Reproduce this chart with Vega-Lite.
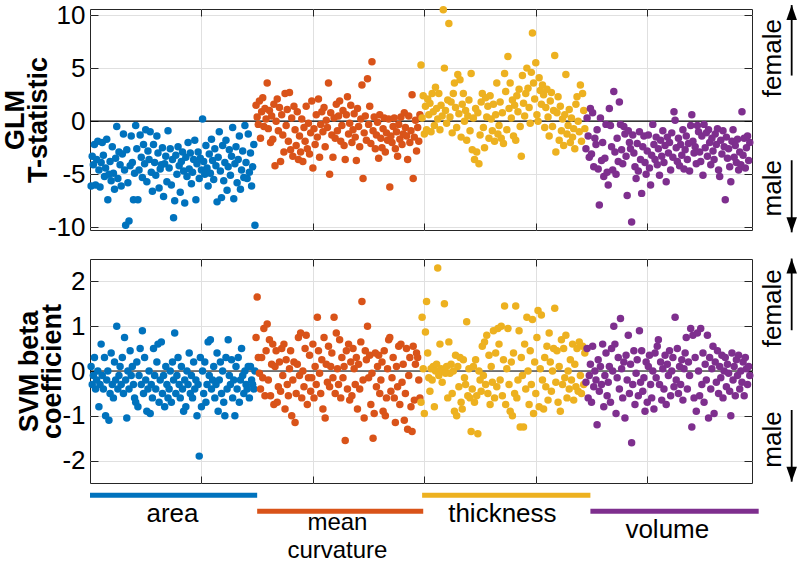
{
"$schema": "https://vega.github.io/schema/vega-lite/v6.json",
"autosize": "none",
"padding": {"left": 90, "top": 9, "right": 710, "bottom": 554},
"background": "white",
"config": {
  "font": "Liberation Sans",
  "view": {"stroke": "#262626", "strokeWidth": 1},
  "axis": {"domain": false, "gridColor": "#e0e0e0", "gridWidth": 1, "tickColor": "#262626", "tickWidth": 1, "labelColor": "#000000", "titleColor": "#000000", "labelFont": "Liberation Sans", "titleFont": "Liberation Sans"}
},
"datasets": {"pts": [
{"i":1,"g":"area","t":-6.1,"s":0.1},{"i":2,"g":"area","t":-3.3,"s":-0.3},{"i":3,"g":"area","t":-4.1,"s":-0.1},{"i":4,"g":"area","t":-2.2,"s":0.3},{"i":5,"g":"area","t":-6.0,"s":-0.4},
{"i":6,"g":"area","t":-3.6,"s":-0.2},{"i":7,"g":"area","t":-1.9,"s":0.0},{"i":8,"g":"area","t":-4.6,"s":-0.8},{"i":9,"g":"area","t":-6.2,"s":-0.3},{"i":10,"g":"area","t":-3.9,"s":0.6},
{"i":11,"g":"area","t":-2.0,"s":-0.1},{"i":12,"g":"area","t":-3.2,"s":-0.4},{"i":13,"g":"area","t":-5.2,"s":0.3},{"i":14,"g":"area","t":-4.4,"s":-1.0},{"i":15,"g":"area","t":-1.7,"s":-0.2},
{"i":16,"g":"area","t":-7.4,"s":0.0},{"i":17,"g":"area","t":-5.0,"s":-1.1},{"i":18,"g":"area","t":-3.8,"s":-0.5},{"i":19,"g":"area","t":-5.6,"s":0.4},{"i":20,"g":"area","t":-2.4,"s":-0.3},
{"i":21,"g":"area","t":-4.9,"s":-0.6},{"i":22,"g":"area","t":-6.4,"s":0.2},{"i":23,"g":"area","t":-3.5,"s":-0.2},{"i":24,"g":"area","t":-0.5,"s":1.0},{"i":25,"g":"area","t":-5.4,"s":-0.4},
{"i":26,"g":"area","t":-2.9,"s":-0.1},{"i":27,"g":"area","t":-4.1,"s":0.1},{"i":28,"g":"area","t":-6.1,"s":-0.3},{"i":29,"g":"area","t":-3.1,"s":0.3},{"i":30,"g":"area","t":-1.2,"s":-0.5},
{"i":31,"g":"area","t":-4.6,"s":0.75},{"i":32,"g":"area","t":-9.8,"s":-0.2},{"i":33,"g":"area","t":-2.7,"s":-1.05},{"i":34,"g":"area","t":-5.8,"s":0.0},{"i":35,"g":"area","t":-9.4,"s":-0.4},
{"i":36,"g":"area","t":-4.2,"s":0.45},{"i":37,"g":"area","t":-1.4,"s":-0.1},{"i":38,"g":"area","t":-3.9,"s":0.1},{"i":39,"g":"area","t":-7.4,"s":-0.3},{"i":40,"g":"area","t":-4.9,"s":-0.6},
{"i":41,"g":"area","t":-0.4,"s":-0.7},{"i":42,"g":"area","t":-2.6,"s":0.2},{"i":43,"g":"area","t":-7.4,"s":-0.8},{"i":44,"g":"area","t":-4.6,"s":-0.1},{"i":45,"g":"area","t":-1.3,"s":0.5},
{"i":46,"g":"area","t":-3.4,"s":-0.3},{"i":47,"g":"area","t":-5.3,"s":0.9},{"i":48,"g":"area","t":-2.2,"s":-0.5},{"i":49,"g":"area","t":-4.0,"s":0.3},{"i":50,"g":"area","t":-0.8,"s":-0.2},
{"i":51,"g":"area","t":-5.7,"s":-0.9},{"i":52,"g":"area","t":-2.8,"s":-0.4},{"i":53,"g":"area","t":-3.6,"s":0.0},{"i":54,"g":"area","t":-1.0,"s":-0.95},{"i":55,"g":"area","t":-4.8,"s":-0.3},
{"i":56,"g":"area","t":-6.6,"s":-0.6},{"i":57,"g":"area","t":-2.2,"s":0.5},{"i":58,"g":"area","t":-3.9,"s":-0.1},{"i":59,"g":"area","t":-5.1,"s":-0.4},{"i":60,"g":"area","t":-1.4,"s":0.2},
{"i":61,"g":"area","t":-3.0,"s":0.6},{"i":62,"g":"area","t":-6.3,"s":-0.7},{"i":63,"g":"area","t":-4.5,"s":-0.2},{"i":64,"g":"area","t":-4.1,"s":0.65},{"i":65,"g":"area","t":-2.5,"s":-0.5},
{"i":66,"g":"area","t":-7.1,"s":-0.1},{"i":67,"g":"area","t":-4.0,"s":-0.8},{"i":68,"g":"area","t":-3.3,"s":0.1},{"i":69,"g":"area","t":-5.7,"s":-0.3},{"i":70,"g":"area","t":-0.9,"s":-0.6},
{"i":71,"g":"area","t":-4.4,"s":-0.4},{"i":72,"g":"area","t":-2.6,"s":0.0},{"i":73,"g":"area","t":-6.0,"s":-0.7},{"i":74,"g":"area","t":-3.6,"s":0.2},{"i":75,"g":"area","t":-9.1,"s":-0.2},
{"i":76,"g":"area","t":-7.5,"s":0.85},{"i":77,"g":"area","t":-3.2,"s":-0.5},{"i":78,"g":"area","t":-5.0,"s":-0.1},{"i":79,"g":"area","t":-2.4,"s":0.3},{"i":80,"g":"area","t":-4.2,"s":-0.3},
{"i":81,"g":"area","t":-6.7,"s":-0.6},{"i":82,"g":"area","t":-3.8,"s":0.1},{"i":83,"g":"area","t":-2.9,"s":-0.4},{"i":84,"g":"area","t":-4.7,"s":-0.9},{"i":85,"g":"area","t":-7.7,"s":-0.2},
{"i":86,"g":"area","t":-3.4,"s":-0.8},{"i":87,"g":"area","t":-5.2,"s":0.0},{"i":88,"g":"area","t":-2.0,"s":-0.3},{"i":89,"g":"area","t":-4.5,"s":0.4},{"i":90,"g":"area","t":-3.0,"s":-0.5},
{"i":91,"g":"area","t":-5.9,"s":-0.1},{"i":92,"g":"area","t":-4.8,"s":-0.6},{"i":93,"g":"area","t":-3.6,"s":0.2},{"i":94,"g":"area","t":-1.8,"s":-0.4},{"i":95,"g":"area","t":-7.4,"s":-0.2},
{"i":96,"g":"area","t":-4.0,"s":-1.0},{"i":97,"g":"area","t":-2.9,"s":-0.3},{"i":98,"g":"area","t":-5.4,"s":-1.9},{"i":99,"g":"area","t":-3.5,"s":0.3},{"i":100,"g":"area","t":-4.6,"s":-0.8},
{"i":101,"g":"area","t":0.2,"s":0.0},{"i":102,"g":"area","t":-3.8,"s":-0.5},{"i":103,"g":"area","t":-5.0,"s":0.2},{"i":104,"g":"area","t":-2.3,"s":-0.7},{"i":105,"g":"area","t":-4.4,"s":-0.3},
{"i":106,"g":"area","t":-6.1,"s":0.65},{"i":107,"g":"area","t":-3.1,"s":-0.1},{"i":108,"g":"area","t":-4.9,"s":0.7},{"i":109,"g":"area","t":-1.7,"s":-0.4},{"i":110,"g":"area","t":-3.7,"s":-0.2},
{"i":111,"g":"area","t":-5.5,"s":0.1},{"i":112,"g":"area","t":-2.6,"s":-0.6},{"i":113,"g":"area","t":-4.2,"s":-0.3},{"i":114,"g":"area","t":-7.6,"s":0.4},{"i":115,"g":"area","t":-3.4,"s":-0.9},
{"i":116,"g":"area","t":-1.0,"s":-0.2},{"i":117,"g":"area","t":-4.7,"s":0.2},{"i":118,"g":"area","t":-7.2,"s":-0.5},{"i":119,"g":"area","t":-2.3,"s":0.0},{"i":120,"g":"area","t":-5.6,"s":-0.7},
{"i":121,"g":"area","t":-3.9,"s":-1.0},{"i":122,"g":"area","t":-1.8,"s":0.3},{"i":123,"g":"area","t":-6.5,"s":-0.4},{"i":124,"g":"area","t":-4.3,"s":0.7},{"i":125,"g":"area","t":-2.7,"s":-0.1},
{"i":126,"g":"area","t":-5.1,"s":-0.3},{"i":127,"g":"area","t":-3.3,"s":0.25},{"i":128,"g":"area","t":-0.6,"s":-0.6},{"i":129,"g":"area","t":-7.3,"s":-0.2},{"i":130,"g":"area","t":-4.0,"s":-1.0},
{"i":131,"g":"area","t":-2.4,"s":0.1},{"i":132,"g":"area","t":-5.8,"s":-0.4},{"i":133,"g":"area","t":-3.6,"s":0.3},{"i":134,"g":"area","t":-1.4,"s":-0.7},{"i":135,"g":"area","t":-6.4,"s":-0.2},
{"i":136,"g":"area","t":-4.6,"s":0.5},{"i":137,"g":"area","t":-2.8,"s":-0.1},{"i":138,"g":"area","t":-5.3,"s":-0.5},{"i":139,"g":"area","t":-0.4,"s":0.0},{"i":140,"g":"area","t":-3.9,"s":-0.3},
{"i":141,"g":"area","t":-5.4,"s":-0.4},{"i":142,"g":"area","t":-1.2,"s":0.1},{"i":143,"g":"area","t":-4.8,"s":-0.6},{"i":144,"g":"area","t":-3.0,"s":0.1},{"i":145,"g":"area","t":-6.1,"s":-0.2},
{"i":146,"g":"area","t":-4.3,"s":-0.3},{"i":147,"g":"area","t":-2.2,"s":-0.4},{"i":148,"g":"area","t":-9.8,"s":0.0},
{"i":149,"g":"curv","t":1.5,"s":0.75},{"i":150,"g":"curv","t":0.4,"s":1.65},{"i":151,"g":"curv","t":-0.3,"s":0.3},{"i":152,"g":"curv","t":1.9,"s":-0.05},{"i":153,"g":"curv","t":-1.6,"s":-0.4},
{"i":154,"g":"curv","t":0.9,"s":0.3},{"i":155,"g":"curv","t":2.2,"s":-0.15},{"i":156,"g":"curv","t":-0.5,"s":0.95},{"i":157,"g":"curv","t":1.2,"s":-0.55},{"i":158,"g":"curv","t":0.2,"s":0.45},
{"i":159,"g":"curv","t":3.6,"s":1.05},{"i":160,"g":"curv","t":-0.7,"s":-0.2},{"i":161,"g":"curv","t":1.0,"s":0.7},{"i":162,"g":"curv","t":-2.0,"s":-0.55},{"i":163,"g":"curv","t":0.5,"s":0.15},
{"i":164,"g":"curv","t":-1.7,"s":0.6},{"i":165,"g":"curv","t":1.6,"s":-0.75},{"i":166,"g":"curv","t":-4.2,"s":0.1},{"i":167,"g":"curv","t":0.0,"s":0.45},{"i":168,"g":"curv","t":2.1,"s":-0.7},
{"i":169,"g":"curv","t":-0.9,"s":-0.35},{"i":170,"g":"curv","t":1.3,"s":0.2},{"i":171,"g":"curv","t":-3.8,"s":-0.45},{"i":172,"g":"curv","t":0.6,"s":0.5},{"i":173,"g":"curv","t":-1.3,"s":-0.1},
{"i":174,"g":"curv","t":-2.9,"s":0.6},{"i":175,"g":"curv","t":2.6,"s":-0.85},{"i":176,"g":"curv","t":-0.4,"s":0.25},{"i":177,"g":"curv","t":1.1,"s":-0.3},{"i":178,"g":"curv","t":-1.9,"s":-0.55},
{"i":179,"g":"curv","t":2.7,"s":0.05},{"i":180,"g":"curv","t":-2.7,"s":0.45},{"i":181,"g":"curv","t":0.3,"s":-1.0},{"i":182,"g":"curv","t":-3.3,"s":-0.2},{"i":183,"g":"curv","t":1.4,"s":0.2},
{"i":184,"g":"curv","t":-0.8,"s":-1.15},{"i":185,"g":"curv","t":-2.3,"s":-0.5},{"i":186,"g":"curv","t":0.9,"s":0.15},{"i":187,"g":"curv","t":-3.6,"s":0.75},{"i":188,"g":"curv","t":-1.4,"s":-0.1},
{"i":189,"g":"curv","t":-2.9,"s":0.85},{"i":190,"g":"curv","t":0.2,"s":-0.6},{"i":191,"g":"curv","t":-3.8,"s":0.0},{"i":192,"g":"curv","t":-0.6,"s":-0.35},{"i":193,"g":"curv","t":-1.9,"s":0.5},
{"i":194,"g":"curv","t":1.4,"s":0.8},{"i":195,"g":"curv","t":-2.6,"s":-0.75},{"i":196,"g":"curv","t":-0.2,"s":-0.15},{"i":197,"g":"curv","t":-3.1,"s":0.35},{"i":198,"g":"curv","t":-1.1,"s":-0.45},
{"i":199,"g":"curv","t":1.9,"s":-0.15},{"i":200,"g":"curv","t":-4.4,"s":0.6},{"i":201,"g":"curv","t":-0.7,"s":-0.6},{"i":202,"g":"curv","t":-2.2,"s":0.1},{"i":203,"g":"curv","t":0.6,"s":-0.3},
{"i":204,"g":"curv","t":-1.5,"s":1.2},{"i":205,"g":"curv","t":2.1,"s":0.45},{"i":206,"g":"curv","t":-3.4,"s":-0.05},{"i":207,"g":"curv","t":-0.3,"s":-0.5},{"i":208,"g":"curv","t":0.9,"s":0.25},
{"i":209,"g":"curv","t":-1.0,"s":-0.85},{"i":210,"g":"curv","t":1.3,"s":0.75},{"i":211,"g":"curv","t":-2.4,"s":-1.05},{"i":212,"g":"curv","t":0.1,"s":0.15},{"i":213,"g":"curv","t":-0.6,"s":-0.25},
{"i":214,"g":"curv","t":3.6,"s":0.55},{"i":215,"g":"curv","t":-5.0,"s":-0.35},{"i":216,"g":"curv","t":0.8,"s":0.1},{"i":217,"g":"curv","t":-1.3,"s":0.4},{"i":218,"g":"curv","t":-3.4,"s":-0.15},
{"i":219,"g":"curv","t":0.3,"s":1.2},{"i":220,"g":"curv","t":-1.6,"s":-0.5},{"i":221,"g":"curv","t":1.6,"s":0.85},{"i":222,"g":"curv","t":-0.9,"s":0.05},{"i":223,"g":"curv","t":0.5,"s":-0.3},
{"i":224,"g":"curv","t":1.9,"s":0.7},{"i":225,"g":"curv","t":-1.9,"s":-0.6},{"i":226,"g":"curv","t":-0.4,"s":0.3},{"i":227,"g":"curv","t":1.0,"s":-0.15},{"i":228,"g":"curv","t":-2.3,"s":0.1},
{"i":229,"g":"curv","t":-3.6,"s":-1.55},{"i":230,"g":"curv","t":0.6,"s":0.45},{"i":231,"g":"curv","t":2.3,"s":-0.4},{"i":232,"g":"curv","t":-1.2,"s":0.6},{"i":233,"g":"curv","t":-0.2,"s":-0.65},
{"i":234,"g":"curv","t":1.5,"s":0.2},{"i":235,"g":"curv","t":-2.0,"s":-0.55},{"i":236,"g":"curv","t":-0.8,"s":0.5},{"i":237,"g":"curv","t":0.7,"s":0.05},{"i":238,"g":"curv","t":-1.5,"s":-0.3},
{"i":239,"g":"curv","t":-3.7,"s":0.3},{"i":240,"g":"curv","t":1.2,"s":-0.85},{"i":241,"g":"curv","t":-0.5,"s":0.15},{"i":242,"g":"curv","t":-2.4,"s":-0.4},{"i":243,"g":"curv","t":0.2,"s":0.65},
{"i":244,"g":"curv","t":3.4,"s":1.55},{"i":245,"g":"curv","t":-5.4,"s":-0.2},{"i":246,"g":"curv","t":-1.1,"s":-1.05},{"i":247,"g":"curv","t":0.5,"s":0.45},{"i":248,"g":"curv","t":-1.8,"s":0.25},
{"i":249,"g":"curv","t":4.0,"s":1.0},{"i":250,"g":"curv","t":-0.3,"s":-0.15},{"i":251,"g":"curv","t":1.4,"s":0.35},{"i":252,"g":"curv","t":-2.1,"s":-0.75},{"i":253,"g":"curv","t":5.6,"s":-0.05},
{"i":254,"g":"curv","t":-0.9,"s":-1.5},{"i":255,"g":"curv","t":0.4,"s":-0.95},{"i":256,"g":"curv","t":-2.6,"s":0.4},{"i":257,"g":"curv","t":-1.3,"s":-0.35},{"i":258,"g":"curv","t":-0.1,"s":0.1},
{"i":259,"g":"curv","t":-3.5,"s":0.35},{"i":260,"g":"curv","t":0.6,"s":-0.5},{"i":261,"g":"curv","t":-1.6,"s":-0.2},{"i":262,"g":"curv","t":-2.5,"s":0.2},{"i":263,"g":"curv","t":-0.7,"s":-0.9},
{"i":264,"g":"curv","t":0.3,"s":0.45},{"i":265,"g":"curv","t":-2.9,"s":-1.0},{"i":266,"g":"curv","t":-1.1,"s":-0.6},{"i":267,"g":"curv","t":-1.8,"s":0.05},{"i":268,"g":"curv","t":0.2,"s":0.7},
{"i":269,"g":"curv","t":-6.2,"s":0.75},{"i":270,"g":"curv","t":-1.4,"s":-0.45},{"i":271,"g":"curv","t":-2.0,"s":-0.15},{"i":272,"g":"curv","t":-0.5,"s":0.3},{"i":273,"g":"curv","t":0.3,"s":-0.6},
{"i":274,"g":"curv","t":-2.6,"s":-1.15},{"i":275,"g":"curv","t":-1.0,"s":0.1},{"i":276,"g":"curv","t":-3.3,"s":-0.35},{"i":277,"g":"curv","t":-0.3,"s":0.55},{"i":278,"g":"curv","t":-1.7,"s":-0.75},
{"i":279,"g":"curv","t":0.4,"s":0.6},{"i":280,"g":"curv","t":-2.2,"s":-0.25},{"i":281,"g":"curv","t":-1.2,"s":0.15},{"i":282,"g":"curv","t":0.8,"s":-1.1},{"i":283,"g":"curv","t":-0.6,"s":-0.5},
{"i":284,"g":"curv","t":-1.4,"s":0.5},{"i":285,"g":"curv","t":-3.6,"s":-1.3},{"i":286,"g":"curv","t":0.5,"s":-0.1},{"i":287,"g":"curv","t":-2.0,"s":0.3},{"i":288,"g":"curv","t":-0.9,"s":-0.8},
{"i":289,"g":"curv","t":2.5,"s":-1.35},{"i":290,"g":"curv","t":-5.4,"s":0.55},{"i":291,"g":"curv","t":-1.5,"s":-0.65},{"i":292,"g":"curv","t":0.1,"s":0.15},{"i":293,"g":"curv","t":-2.8,"s":0.4},
{"i":294,"g":"curv","t":-0.6,"s":0.3},{"i":295,"g":"curv","t":-1.9,"s":-0.2},{"i":296,"g":"curv","t":0.6,"s":-0.6},
{"i":297,"g":"thick","t":5.3,"s":-0.7},{"i":298,"g":"thick","t":0.3,"s":1.2},{"i":299,"g":"thick","t":2.4,"s":0.05},{"i":300,"g":"thick","t":-1.2,"s":-0.95},{"i":301,"g":"thick","t":1.4,"s":0.87},
{"i":302,"g":"thick","t":-0.8,"s":1.55},{"i":303,"g":"thick","t":2.1,"s":0.4},{"i":304,"g":"thick","t":0.6,"s":-0.15},{"i":305,"g":"thick","t":1.7,"s":-0.45},{"i":306,"g":"thick","t":-1.0,"s":0.05},
{"i":307,"g":"thick","t":2.6,"s":-0.2},{"i":308,"g":"thick","t":0.9,"s":0.1},{"i":309,"g":"thick","t":-0.4,"s":-0.8},{"i":310,"g":"thick","t":3.2,"s":0.0},{"i":311,"g":"thick","t":1.2,"s":0.15},
{"i":312,"g":"thick","t":0.2,"s":2.3},{"i":313,"g":"thick","t":2.6,"s":-0.1},{"i":314,"g":"thick","t":-0.8,"s":0.6},{"i":315,"g":"thick","t":1.5,"s":0.05},{"i":316,"g":"thick","t":0.5,"s":-0.25},
{"i":317,"g":"thick","t":10.5,"s":0.0},{"i":318,"g":"thick","t":5.0,"s":1.5},{"i":319,"g":"thick","t":1.0,"s":-0.05},{"i":320,"g":"thick","t":-0.2,"s":0.1},{"i":321,"g":"thick","t":2.0,"s":-0.6},
{"i":322,"g":"thick","t":9.2,"s":0.65},{"i":323,"g":"thick","t":0.4,"s":-0.05},{"i":324,"g":"thick","t":1.8,"s":0.15},{"i":325,"g":"thick","t":-1.1,"s":-0.5},{"i":326,"g":"thick","t":2.6,"s":0.0},
{"i":327,"g":"thick","t":3.6,"s":-0.9},{"i":328,"g":"thick","t":1.3,"s":0.35},{"i":329,"g":"thick","t":-0.6,"s":-1.0},{"i":330,"g":"thick","t":4.4,"s":0.1},{"i":331,"g":"thick","t":0.7,"s":-0.35},
{"i":332,"g":"thick","t":3.9,"s":0.3},{"i":333,"g":"thick","t":-1.5,"s":-0.7},{"i":334,"g":"thick","t":1.6,"s":-0.85},{"i":335,"g":"thick","t":2.6,"s":0.25},{"i":336,"g":"thick","t":0.0,"s":-0.15},
{"i":337,"g":"thick","t":1.0,"s":-0.3},{"i":338,"g":"thick","t":-1.8,"s":1.1},{"i":339,"g":"thick","t":0.5,"s":-0.55},{"i":340,"g":"thick","t":2.0,"s":0.05},{"i":341,"g":"thick","t":-0.9,"s":-0.6},
{"i":342,"g":"thick","t":4.5,"s":-1.35},{"i":343,"g":"thick","t":-2.7,"s":-0.4},{"i":344,"g":"thick","t":0.3,"s":0.1},{"i":345,"g":"thick","t":-3.6,"s":-0.7},{"i":346,"g":"thick","t":1.2,"s":0.25},
{"i":347,"g":"thick","t":-2.9,"s":-0.55},{"i":348,"g":"thick","t":0.8,"s":-1.4},{"i":349,"g":"thick","t":-4.0,"s":0.0},{"i":350,"g":"thick","t":-1.3,"s":-0.2},{"i":351,"g":"thick","t":1.8,"s":-0.45},
{"i":352,"g":"thick","t":2.6,"s":0.55},{"i":353,"g":"thick","t":-0.6,"s":-0.1},{"i":354,"g":"thick","t":-2.5,"s":0.65},{"i":355,"g":"thick","t":2.2,"s":-0.3},{"i":356,"g":"thick","t":0.4,"s":0.8},
{"i":357,"g":"thick","t":1.4,"s":-0.5},{"i":358,"g":"thick","t":-1.6,"s":0.35},{"i":359,"g":"thick","t":2.4,"s":-0.75},{"i":360,"g":"thick","t":0.2,"s":0.1},{"i":361,"g":"thick","t":-0.9,"s":-0.25},
{"i":362,"g":"thick","t":1.6,"s":0.9},{"i":363,"g":"thick","t":-1.9,"s":-0.6},{"i":364,"g":"thick","t":0.6,"s":0.4},{"i":365,"g":"thick","t":3.6,"s":-0.35},{"i":366,"g":"thick","t":-1.2,"s":0.95},
{"i":367,"g":"thick","t":-0.4,"s":0.6},{"i":368,"g":"thick","t":1.8,"s":-0.2},{"i":369,"g":"thick","t":-1.6,"s":1.0},{"i":370,"g":"thick","t":0.8,"s":-0.55},{"i":371,"g":"thick","t":-2.1,"s":0.25},
{"i":372,"g":"thick","t":4.5,"s":1.45},{"i":373,"g":"thick","t":2.8,"s":-0.75},{"i":374,"g":"thick","t":-0.8,"s":0.05},{"i":375,"g":"thick","t":6.1,"s":0.95},{"i":376,"g":"thick","t":1.2,"s":-0.3},
{"i":377,"g":"thick","t":3.6,"s":-0.9},{"i":378,"g":"thick","t":0.3,"s":0.2},{"i":379,"g":"thick","t":2.0,"s":-1.0},{"i":380,"g":"thick","t":-1.4,"s":0.4},{"i":381,"g":"thick","t":1.5,"s":-0.5},
{"i":382,"g":"thick","t":-1.8,"s":1.45},{"i":383,"g":"thick","t":2.4,"s":-0.6},{"i":384,"g":"thick","t":0.9,"s":-0.2},{"i":385,"g":"thick","t":3.0,"s":0.9},{"i":386,"g":"thick","t":-0.5,"s":-1.25},
{"i":387,"g":"thick","t":-3.3,"s":0.3},{"i":388,"g":"thick","t":4.3,"s":-0.1},{"i":389,"g":"thick","t":1.7,"s":-1.25},{"i":390,"g":"thick","t":0.5,"s":0.6},{"i":391,"g":"thick","t":2.6,"s":-0.4},
{"i":392,"g":"thick","t":5.0,"s":1.2},{"i":393,"g":"thick","t":3.1,"s":0.0},{"i":394,"g":"thick","t":1.3,"s":-0.75},{"i":395,"g":"thick","t":-0.2,"s":0.45},{"i":396,"g":"thick","t":4.6,"s":-0.3},
{"i":397,"g":"thick","t":8.3,"s":1.15},{"i":398,"g":"thick","t":3.6,"s":-0.95},{"i":399,"g":"thick","t":2.1,"s":0.2},{"i":400,"g":"thick","t":5.5,"s":-0.5},{"i":401,"g":"thick","t":0.6,"s":0.75},
{"i":402,"g":"thick","t":0.0,"s":1.35},{"i":403,"g":"thick","t":4.1,"s":-0.8},{"i":404,"g":"thick","t":2.9,"s":0.05},{"i":405,"g":"thick","t":1.6,"s":1.25},{"i":406,"g":"thick","t":3.4,"s":-0.2},
{"i":407,"g":"thick","t":2.5,"s":-0.85},{"i":408,"g":"thick","t":-0.6,"s":0.3},{"i":409,"g":"thick","t":1.3,"s":-0.35},{"i":410,"g":"thick","t":3.0,"s":0.55},{"i":411,"g":"thick","t":0.4,"s":-0.65},
{"i":412,"g":"thick","t":-1.4,"s":0.85},{"i":413,"g":"thick","t":1.9,"s":0.2},{"i":414,"g":"thick","t":2.7,"s":-0.45},{"i":415,"g":"thick","t":-0.5,"s":0.0},{"i":416,"g":"thick","t":1.0,"s":0.5},
{"i":417,"g":"thick","t":6.2,"s":1.4},{"i":418,"g":"thick","t":-2.9,"s":-0.25},{"i":419,"g":"thick","t":0.8,"s":0.45},{"i":420,"g":"thick","t":2.3,"s":-0.7},{"i":421,"g":"thick","t":-1.8,"s":0.1},
{"i":422,"g":"thick","t":1.4,"s":-0.9},{"i":423,"g":"thick","t":-0.9,"s":0.7},{"i":424,"g":"thick","t":0.2,"s":-0.3},{"i":425,"g":"thick","t":-2.3,"s":0.5},{"i":426,"g":"thick","t":0.6,"s":-0.15},
{"i":427,"g":"thick","t":4.4,"s":0.8},{"i":428,"g":"thick","t":-1.2,"s":-0.6},{"i":429,"g":"thick","t":-0.4,"s":0.0},{"i":430,"g":"thick","t":1.1,"s":-0.4},{"i":431,"g":"thick","t":-2.0,"s":0.25},
{"i":432,"g":"thick","t":0.3,"s":-0.2},{"i":433,"g":"thick","t":-1.5,"s":0.6},{"i":434,"g":"thick","t":-0.7,"s":-0.65},{"i":435,"g":"thick","t":-2.6,"s":0.15},{"i":436,"g":"thick","t":1.6,"s":-0.35},
{"i":437,"g":"thick","t":2.3,"s":0.5},{"i":438,"g":"thick","t":0.0,"s":-0.45},{"i":439,"g":"thick","t":-1.0,"s":0.65},{"i":440,"g":"thick","t":3.4,"s":-0.1},{"i":441,"g":"thick","t":-1.9,"s":-0.5},
{"i":442,"g":"thick","t":2.6,"s":0.55},{"i":443,"g":"thick","t":1.0,"s":-0.3},{"i":444,"g":"thick","t":-0.7,"s":0.4},
{"i":445,"g":"vol","t":-2.6,"s":-0.25},{"i":446,"g":"vol","t":0.3,"s":0.5},{"i":447,"g":"vol","t":-1.4,"s":-0.6},{"i":448,"g":"vol","t":-3.4,"s":-0.1},{"i":449,"g":"vol","t":1.2,"s":0.15},
{"i":450,"g":"vol","t":-3.1,"s":-0.7},{"i":451,"g":"vol","t":0.8,"s":0.55},{"i":452,"g":"vol","t":-4.3,"s":-0.35},{"i":453,"g":"vol","t":-1.6,"s":0.0},{"i":454,"g":"vol","t":-2.2,"s":-0.2},
{"i":455,"g":"vol","t":-0.8,"s":-1.2},{"i":456,"g":"vol","t":-4.5,"s":0.25},{"i":457,"g":"vol","t":-7.9,"s":-0.45},{"i":458,"g":"vol","t":0.3,"s":0.1},{"i":459,"g":"vol","t":-3.7,"s":-0.3},
{"i":460,"g":"vol","t":-2.0,"s":0.6},{"i":461,"g":"vol","t":-5.2,"s":-0.8},{"i":462,"g":"vol","t":-3.5,"s":-0.1},{"i":463,"g":"vol","t":-0.3,"s":0.4},{"i":464,"g":"vol","t":-4.8,"s":-0.55},
{"i":465,"g":"vol","t":-6.0,"s":-0.25},{"i":466,"g":"vol","t":1.2,"s":0.1},{"i":467,"g":"vol","t":-0.4,"s":-0.7},{"i":468,"g":"vol","t":-2.4,"s":0.5},{"i":469,"g":"vol","t":-4.6,"s":0.0},
{"i":470,"g":"vol","t":2.8,"s":1.0},{"i":471,"g":"vol","t":-2.9,"s":0.6},{"i":472,"g":"vol","t":-5.0,"s":-0.95},{"i":473,"g":"vol","t":-1.6,"s":-0.15},{"i":474,"g":"vol","t":-3.8,"s":0.3},
{"i":475,"g":"vol","t":1.8,"s":-0.4},{"i":476,"g":"vol","t":-0.3,"s":1.17},{"i":477,"g":"vol","t":-2.7,"s":0.05},{"i":478,"g":"vol","t":-4.0,"s":-0.6},{"i":479,"g":"vol","t":-0.5,"s":0.2},
{"i":480,"g":"vol","t":-1.2,"s":-1.05},{"i":481,"g":"vol","t":-3.3,"s":0.35},{"i":482,"g":"vol","t":-7.0,"s":-0.2},{"i":483,"g":"vol","t":-0.9,"s":0.8},{"i":484,"g":"vol","t":-2.0,"s":-0.5},
{"i":485,"g":"vol","t":-2.6,"s":0.15},{"i":486,"g":"vol","t":-9.5,"s":-1.6},{"i":487,"g":"vol","t":-1.3,"s":-0.3},{"i":488,"g":"vol","t":-3.0,"s":0.45},{"i":489,"g":"vol","t":-4.3,"s":-0.75},
{"i":490,"g":"vol","t":-5.4,"s":-0.05},{"i":491,"g":"vol","t":-2.1,"s":0.25},{"i":492,"g":"vol","t":-4.7,"s":-0.55},{"i":493,"g":"vol","t":-1.0,"s":0.9},{"i":494,"g":"vol","t":-3.6,"s":-0.25},
{"i":495,"g":"vol","t":-6.8,"s":0.45},{"i":496,"g":"vol","t":-2.4,"s":-0.45},{"i":497,"g":"vol","t":-1.4,"s":-0.15},{"i":498,"g":"vol","t":-3.9,"s":-0.9},{"i":499,"g":"vol","t":-5.0,"s":0.2},
{"i":500,"g":"vol","t":-2.8,"s":-0.7},{"i":501,"g":"vol","t":-1.3,"s":0.1},{"i":502,"g":"vol","t":-4.4,"s":0.35},{"i":503,"g":"vol","t":-6.0,"s":-0.3},{"i":504,"g":"vol","t":-3.2,"s":-0.6},
{"i":505,"g":"vol","t":-0.3,"s":0.0},{"i":506,"g":"vol","t":-2.2,"s":-0.85},{"i":507,"g":"vol","t":-3.6,"s":0.4},{"i":508,"g":"vol","t":-1.5,"s":-0.15},{"i":509,"g":"vol","t":-4.1,"s":0.55},
{"i":510,"g":"vol","t":-2.6,"s":0.7},{"i":511,"g":"vol","t":-5.1,"s":-0.3},{"i":512,"g":"vol","t":-1.8,"s":0.2},{"i":513,"g":"vol","t":-3.3,"s":-0.65},{"i":514,"g":"vol","t":-0.9,"s":0.05},
{"i":515,"g":"vol","t":-3.9,"s":-0.4},{"i":516,"g":"vol","t":-2.3,"s":0.35},{"i":517,"g":"vol","t":-5.7,"s":-0.75},{"i":518,"g":"vol","t":-1.5,"s":0.15},{"i":519,"g":"vol","t":-3.0,"s":-0.1},
{"i":520,"g":"vol","t":-2.0,"s":0.45},{"i":521,"g":"vol","t":-4.6,"s":-0.55},{"i":522,"g":"vol","t":-1.1,"s":0.0},{"i":523,"g":"vol","t":-3.4,"s":0.3},{"i":524,"g":"vol","t":0.9,"s":-0.35},
{"i":525,"g":"vol","t":0.1,"s":1.2},{"i":526,"g":"vol","t":-2.5,"s":-0.2},{"i":527,"g":"vol","t":-3.8,"s":0.5},{"i":528,"g":"vol","t":-1.6,"s":-0.5},{"i":529,"g":"vol","t":-4.2,"s":0.1},
{"i":530,"g":"vol","t":-2.2,"s":-0.3},{"i":531,"g":"vol","t":-3.2,"s":0.25},{"i":532,"g":"vol","t":-0.8,"s":-0.65},{"i":533,"g":"vol","t":-4.5,"s":0.05},{"i":534,"g":"vol","t":-2.7,"s":0.4},
{"i":535,"g":"vol","t":-1.4,"s":0.75},{"i":536,"g":"vol","t":-3.6,"s":-0.4},{"i":537,"g":"vol","t":-2.1,"s":0.2},{"i":538,"g":"vol","t":-4.7,"s":-0.1},{"i":539,"g":"vol","t":-0.4,"s":0.95},
{"i":540,"g":"vol","t":0.6,"s":-1.25},{"i":541,"g":"vol","t":-1.9,"s":0.8},{"i":542,"g":"vol","t":-3.0,"s":-0.6},{"i":543,"g":"vol","t":-2.4,"s":0.3},{"i":544,"g":"vol","t":-4.0,"s":-0.9},
{"i":545,"g":"vol","t":-0.4,"s":0.85},{"i":546,"g":"vol","t":-1.0,"s":0.0},{"i":547,"g":"vol","t":-2.9,"s":-0.55},{"i":548,"g":"vol","t":-3.8,"s":0.95},{"i":549,"g":"vol","t":-1.4,"s":-0.3},
{"i":550,"g":"vol","t":-5.1,"s":0.4},{"i":551,"g":"vol","t":-0.3,"s":-0.7},{"i":552,"g":"vol","t":-2.5,"s":0.15},{"i":553,"g":"vol","t":-1.1,"s":-0.2},{"i":554,"g":"vol","t":-3.3,"s":0.8},
{"i":555,"g":"vol","t":-0.8,"s":-1.05},{"i":556,"g":"vol","t":-2.0,"s":0.3},{"i":557,"g":"vol","t":-4.1,"s":-0.4},{"i":558,"g":"vol","t":-1.6,"s":0.05},{"i":559,"g":"vol","t":-2.8,"s":0.55},
{"i":560,"g":"vol","t":-3.6,"s":-0.95},{"i":561,"g":"vol","t":-1.2,"s":0.2},{"i":562,"g":"vol","t":-2.2,"s":-0.25},{"i":563,"g":"vol","t":-0.7,"s":0.45},{"i":564,"g":"vol","t":-4.6,"s":-0.5},
{"i":565,"g":"vol","t":-5.2,"s":0.1},{"i":566,"g":"vol","t":-1.8,"s":-0.15},{"i":567,"g":"vol","t":-3.1,"s":0.35},{"i":568,"g":"vol","t":-0.9,"s":-0.6},{"i":569,"g":"vol","t":-2.4,"s":0.0},
{"i":570,"g":"vol","t":-7.4,"s":0.3},{"i":571,"g":"vol","t":-1.5,"s":-0.35},{"i":572,"g":"vol","t":-3.5,"s":0.15},{"i":573,"g":"vol","t":-2.6,"s":-0.05},{"i":574,"g":"vol","t":-4.3,"s":-0.45},
{"i":575,"g":"vol","t":-5.7,"s":-1.0},{"i":576,"g":"vol","t":-1.9,"s":0.4},{"i":577,"g":"vol","t":-0.8,"s":-0.2},{"i":578,"g":"vol","t":-3.4,"s":0.1},{"i":579,"g":"vol","t":-2.3,"s":-0.55},
{"i":580,"g":"vol","t":-3.9,"s":0.25},{"i":581,"g":"vol","t":-1.7,"s":-0.1},{"i":582,"g":"vol","t":-4.6,"s":0.35},{"i":583,"g":"vol","t":-2.9,"s":-0.4},{"i":584,"g":"vol","t":-4.1,"s":0.0},
{"i":585,"g":"vol","t":0.9,"s":-0.25},{"i":586,"g":"vol","t":-3.2,"s":0.2},{"i":587,"g":"vol","t":-1.6,"s":-0.55},{"i":588,"g":"vol","t":-4.4,"s":0.3},{"i":589,"g":"vol","t":-2.5,"s":0.05},
{"i":590,"g":"vol","t":-1.4,"s":-0.3},{"i":591,"g":"vol","t":-3.7,"s":0.1},{"i":592,"g":"vol","t":-2.0,"s":-0.1}
]},
"bounds": "flush",
"spacing": 29,
"vconcat": [
 {
  "width": 662, "height": 221,
  "layer": [
   {"data": {"values": [{}]}, "mark": {"type": "rule", "color": "#000000", "strokeWidth": 1.2},
    "encoding": {"y": {"datum": 0, "type": "quantitative", "scale": {"domain": [-10.25, 10.57], "nice": false}, "axis": null}}},
   {"data": {"name": "pts"}, "mark": {"type": "circle", "size": 56, "opacity": 1},
    "encoding": {
     "x": {"field": "i", "type": "quantitative", "scale": {"domain": [0, 594], "nice": false}, "axis": {"orient": "bottom", "labels": false, "title": null, "grid": true, "values": [100, 200, 300, 400, 500], "tickSize": -7}},
     "y": {"field": "t", "type": "quantitative", "scale": {"domain": [-10.25, 10.57], "nice": false}, "axis": {"orient": "left", "values": [-10, -5, 0, 5, 10], "grid": true, "tickSize": -8, "labelPadding": 13, "labelFontSize": 26, "labelExpr": "'' + datum.value", "title": ["GLM", "T-statistic"], "titleFontSize": 27, "titleFontWeight": "bold", "titleLineHeight": 23, "titlePadding": -5}},
     "color": {"field": "g", "type": "nominal", "scale": {"domain": ["area", "curv", "thick", "vol"], "range": ["#0072BD", "#D95319", "#EDB120", "#7E2F8E"]}, "legend": null}
    }},
   {"data": {"values": [{"lab": "female", "x": 612.8, "y": 5.94}, {"lab": "male", "x": 612.8, "y": -6.32}]},
    "mark": {"type": "text", "angle": 270, "align": "center", "baseline": "middle", "fontSize": 26, "color": "#000000"},
    "encoding": {
     "x": {"field": "x", "type": "quantitative", "scale": {"domain": [0, 594], "nice": false}, "axis": {"orient": "top", "labels": false, "title": null, "grid": false, "values": [100, 200, 300, 400, 500], "tickSize": -7}},
     "y": {"field": "y", "type": "quantitative", "scale": {"domain": [-10.25, 10.57], "nice": false}, "axis": {"orient": "right", "labels": false, "title": null, "grid": false, "values": [-10, -5, 0, 5, 10], "tickSize": -8}},
     "text": {"field": "lab"}
    }},
   {"data": {"values": [{"x": 629.6, "y1": 4.3, "y2": 10.94, "dir": "up"}, {"x": 629.6, "y1": -3.68, "y2": -10.47, "dir": "down"}]},
    "mark": {"type": "rule", "color": "#000000", "strokeWidth": 1.8},
    "encoding": {
     "x": {"field": "x", "type": "quantitative", "scale": {"domain": [0, 594], "nice": false}, "axis": null},
     "y": {"field": "y1", "type": "quantitative", "scale": {"domain": [-10.25, 10.57], "nice": false}, "axis": null},
     "y2": {"field": "y2"}
    }},
   {"data": {"values": [{"x": 629.6, "y2": 10.94, "dir": "up"}, {"x": 629.6, "y2": -10.47, "dir": "down"}]},
    "mark": {"type": "point", "filled": true, "size": 225, "opacity": 1, "color": "#000000"},
    "encoding": {
     "x": {"field": "x", "type": "quantitative", "scale": {"domain": [0, 594], "nice": false}, "axis": null},
     "y": {"field": "y2", "type": "quantitative", "scale": {"domain": [-10.25, 10.57], "nice": false}, "axis": null},
     "shape": {"field": "dir", "type": "nominal", "scale": {"domain": ["up", "down"], "range": ["M0,0L-0.7,2L0.7,2Z", "M0,0L-0.7,-2L0.7,-2Z"]}, "legend": null}
    }}
  ]
 },
 {
  "bounds": "flush",
  "spacing": 6,
  "vconcat": [
   {
    "width": 662, "height": 224,
    "layer": [
     {"data": {"values": [{}]}, "mark": {"type": "rule", "color": "#000000", "strokeWidth": 1.2},
      "encoding": {"y": {"datum": 0, "type": "quantitative", "scale": {"domain": [-2.5, 2.5], "nice": false}, "axis": null}}},
     {"data": {"name": "pts"}, "mark": {"type": "circle", "size": 56, "opacity": 1},
      "encoding": {
       "x": {"field": "i", "type": "quantitative", "scale": {"domain": [0, 594], "nice": false}, "axis": {"orient": "bottom", "labels": false, "title": null, "grid": true, "values": [100, 200, 300, 400, 500], "tickSize": -7}},
       "y": {"field": "s", "type": "quantitative", "scale": {"domain": [-2.5, 2.5], "nice": false}, "axis": {"orient": "left", "values": [-2, -1, 0, 1, 2], "grid": true, "tickSize": -8, "labelPadding": 13, "labelFontSize": 26, "labelExpr": "'' + datum.value", "title": ["SVM beta", "coefficient"], "titleFontSize": 27, "titleFontWeight": "bold", "titleLineHeight": 23, "titlePadding": -5}},
       "color": {"field": "g", "type": "nominal", "scale": {"domain": ["area", "curv", "thick", "vol"], "range": ["#0072BD", "#D95319", "#EDB120", "#7E2F8E"]}, "legend": null}
      }},
     {"data": {"values": [{"lab": "female", "x": 612.8, "y": 1.4}, {"lab": "male", "x": 612.8, "y": -1.53}]},
      "mark": {"type": "text", "angle": 270, "align": "center", "baseline": "middle", "fontSize": 26, "color": "#000000"},
      "encoding": {
       "x": {"field": "x", "type": "quantitative", "scale": {"domain": [0, 594], "nice": false}, "axis": {"orient": "top", "labels": false, "title": null, "grid": false, "values": [100, 200, 300, 400, 500], "tickSize": -7}},
       "y": {"field": "y", "type": "quantitative", "scale": {"domain": [-2.5, 2.5], "nice": false}, "axis": {"orient": "right", "labels": false, "title": null, "grid": false, "values": [-2, -1, 0, 1, 2], "tickSize": -8}},
       "text": {"field": "lab"}
      }},
     {"data": {"values": [{"x": 629.6, "y1": 0.91, "y2": 2.51, "dir": "up"}, {"x": 629.6, "y1": -0.87, "y2": -2.47, "dir": "down"}]},
      "mark": {"type": "rule", "color": "#000000", "strokeWidth": 1.8},
      "encoding": {
       "x": {"field": "x", "type": "quantitative", "scale": {"domain": [0, 594], "nice": false}, "axis": null},
       "y": {"field": "y1", "type": "quantitative", "scale": {"domain": [-2.5, 2.5], "nice": false}, "axis": null},
       "y2": {"field": "y2"}
      }},
     {"data": {"values": [{"x": 629.6, "y2": 2.51, "dir": "up"}, {"x": 629.6, "y2": -2.47, "dir": "down"}]},
      "mark": {"type": "point", "filled": true, "size": 225, "opacity": 1, "color": "#000000"},
      "encoding": {
       "x": {"field": "x", "type": "quantitative", "scale": {"domain": [0, 594], "nice": false}, "axis": null},
       "y": {"field": "y2", "type": "quantitative", "scale": {"domain": [-2.5, 2.5], "nice": false}, "axis": null},
       "shape": {"field": "dir", "type": "nominal", "scale": {"domain": ["up", "down"], "range": ["M0,0L-0.7,2L0.7,2Z", "M0,0L-0.7,-2L0.7,-2Z"]}, "legend": null}
      }}
    ]
   },
   {
    "width": 662, "height": 70,
    "view": {"stroke": null},
    "data": {"values": [
     {"lab": "area", "g": "area", "x0": 0, "x1": 150, "mid": 74, "row": 1},
     {"lab": "mean\ncurvature", "g": "curv", "x0": 150, "x1": 299, "mid": 222, "row": 2},
     {"lab": "thickness", "g": "thick", "x0": 298, "x1": 449, "mid": 370, "row": 1},
     {"lab": "volume", "g": "vol", "x0": 449, "x1": 600, "mid": 518, "row": 2}
    ]},
    "layer": [
     {"mark": {"type": "rule", "strokeWidth": 5},
      "encoding": {
       "x": {"field": "x0", "type": "quantitative", "scale": {"domain": [0, 594], "nice": false}, "axis": null},
       "x2": {"field": "x1"},
       "y": {"field": "row", "type": "quantitative", "scale": {"domain": [0.6, 5], "reverse": true, "nice": false, "zero": false}, "axis": null},
       "color": {"field": "g", "type": "nominal", "scale": {"domain": ["area", "curv", "thick", "vol"], "range": ["#0072BD", "#D95319", "#EDB120", "#7E2F8E"]}, "legend": null}
      }},
     {"transform": [{"filter": "datum.g != 'curv'"}],
      "mark": {"type": "text", "fontSize": 26, "baseline": "alphabetic", "align": "center", "dy": 27, "color": "#000000"},
      "encoding": {
       "x": {"field": "mid", "type": "quantitative", "scale": {"domain": [0, 594], "nice": false}, "axis": null},
       "y": {"field": "row", "type": "quantitative", "scale": {"domain": [0.6, 5], "reverse": true, "nice": false, "zero": false}, "axis": null},
       "text": {"field": "lab"}
      }},
     {"transform": [{"filter": "datum.g == 'curv'"}],
      "mark": {"type": "text", "fontSize": 24, "baseline": "alphabetic", "align": "center", "dy": 19, "lineBreak": "\n", "lineHeight": 28, "color": "#000000"},
      "encoding": {
       "x": {"field": "mid", "type": "quantitative", "scale": {"domain": [0, 594], "nice": false}, "axis": null},
       "y": {"field": "row", "type": "quantitative", "scale": {"domain": [0.6, 5], "reverse": true, "nice": false, "zero": false}, "axis": null},
       "text": {"field": "lab"}
      }}
    ]
   }
  ]
 }
]
}
